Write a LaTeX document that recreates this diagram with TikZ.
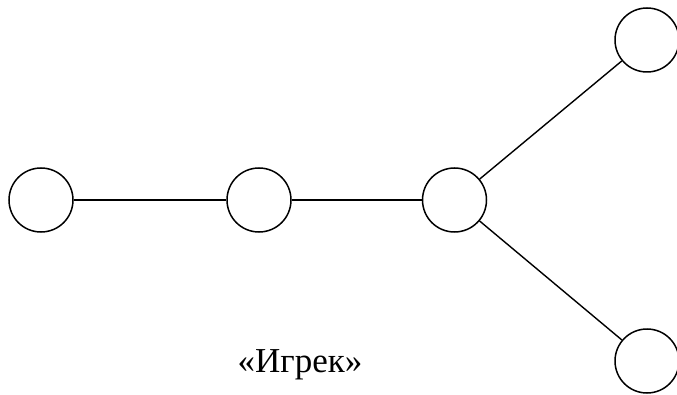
\documentclass[tikz,border=0pt]{standalone}
\usepackage{fontspec}
\setmainfont{Liberation Serif}
\begin{document}
\begin{tikzpicture}[x=1pt,y=-1pt,
  vert/.style={circle,draw=black,line width=1.5pt,minimum size=64pt,inner sep=0pt,fill=white},
  edge/.style={draw=black,line width=1.4pt}]
\useasboundingbox (0,0) rectangle (677,395);
\node[vert] (a) at (41,200) {};
\node[vert] (b) at (259,200) {};
\node[vert] (c) at (454.5,200) {};
\node[vert] (d) at (647,40) {};
\node[vert] (e) at (647,361) {};
\draw[edge] (a) -- (b);
\draw[edge] (b) -- (c);
\draw[edge] (c) -- (d);
\draw[edge] (c) -- (e);
\node[inner sep=0pt,anchor=base] (t) at (300,372) {\fontsize{35}{42}\selectfont «Игрек»};
\end{tikzpicture}
\end{document}
